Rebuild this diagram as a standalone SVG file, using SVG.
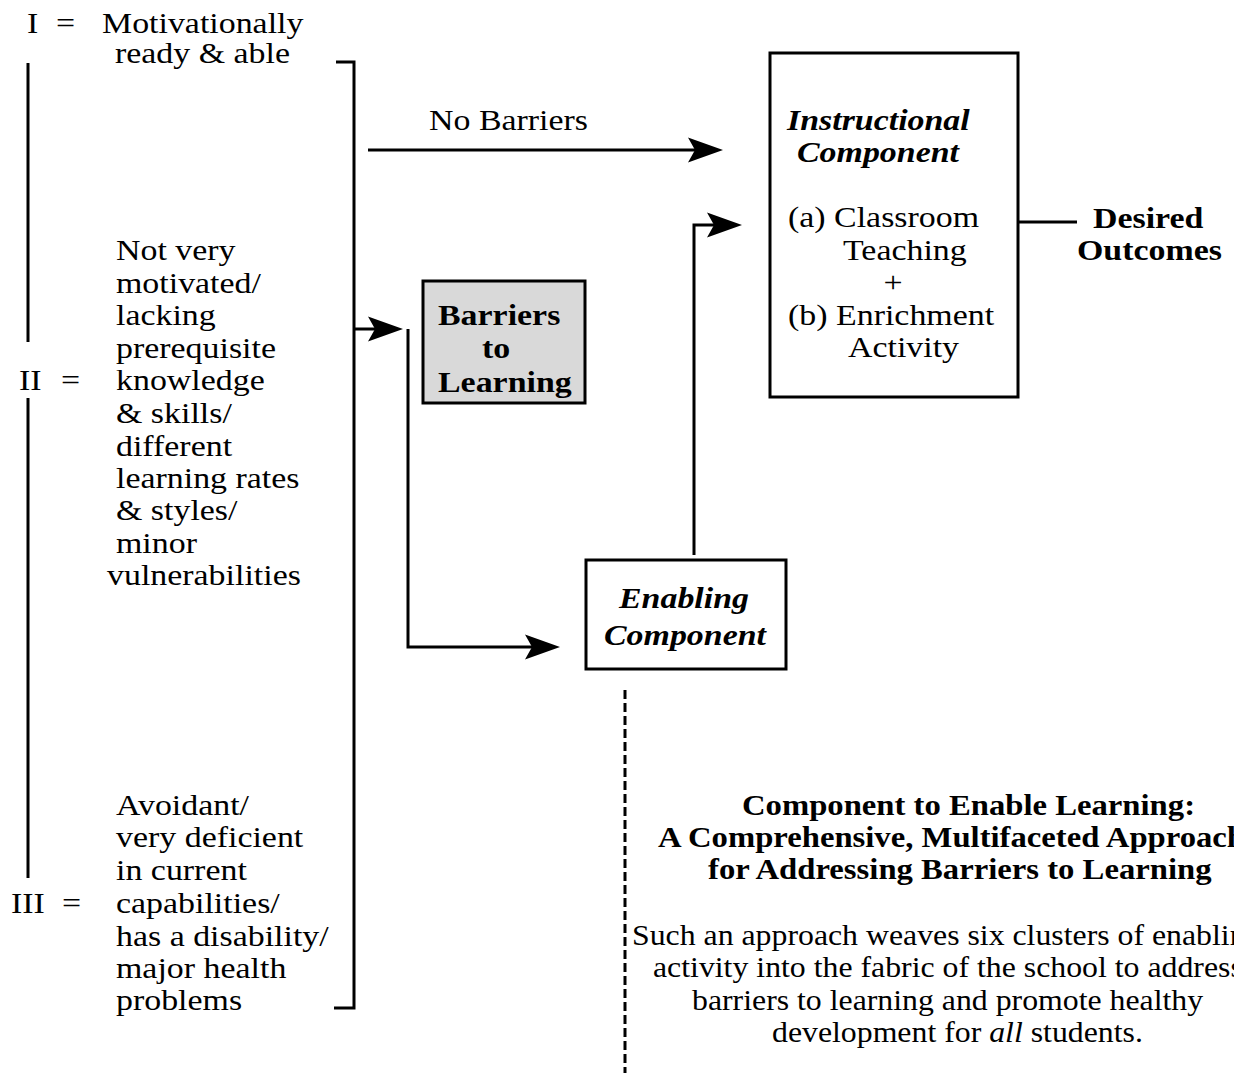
<svg xmlns="http://www.w3.org/2000/svg" width="1234" height="1073" viewBox="0 0 1234 1073">
<style>
text { font-family: "Liberation Serif", "Times New Roman", serif; font-size: 30px; fill: #000; }
.b { font-weight: bold; }
.bi { font-weight: bold; font-style: italic; }
.box { fill: #fff; stroke: #000; stroke-width: 3; }
.gray { fill: #d9d9d9; stroke: #000; stroke-width: 3; }
.ln { fill: none; stroke: #000; stroke-width: 3; }
.dash { fill: none; stroke: #000; stroke-width: 3; stroke-dasharray: 9 4; }
</style>
<defs>
<marker id="arr" markerUnits="userSpaceOnUse" viewBox="-36 -14 38 28" markerWidth="38" markerHeight="28" refX="-28" refY="0" orient="auto">
<path d="M0,0 L-35,-12.5 L-28,0 L-35,12.5 Z" fill="#000"/>
</marker>
</defs>
<rect width="1234" height="1073" fill="#fff"/>

<g id="connectors">
<path class="ln" d="M336,62 H354 V1008 H334"/>
<path class="ln" d="M28,63 V342"/>
<path class="ln" d="M28,398 V878"/>
<path class="ln" d="M354,329 H375" marker-end="url(#arr)"/>
<path class="ln" d="M408,329 V647 H532" marker-end="url(#arr)"/>
<path class="ln" d="M368,150 H695" marker-end="url(#arr)"/>
<path class="ln" d="M694,555 V225 H714" marker-end="url(#arr)"/>
<path class="ln" d="M1018,222 H1077"/>
<path class="dash" d="M625,690 V1073"/>
</g>

<g id="label-no-barriers">
<text transform="translate(429 130) scale(1.13 1)">No Barriers</text>
</g>

<g id="group-I">
<text transform="translate(27 33) scale(1.13 1)">I</text>
<text transform="translate(56 33) scale(1.13 1)">=</text>
<text transform="translate(102 33) scale(1.13 1)">Motivationally</text>
<text transform="translate(115 63) scale(1.13 1)">ready &amp; able</text>
</g>

<g id="group-II">
<text transform="translate(19 390) scale(1.13 1)">II</text>
<text transform="translate(61 390) scale(1.13 1)">=</text>
<text transform="translate(116 260) scale(1.13 1)">Not very</text>
<text transform="translate(116 293) scale(1.13 1)">motivated/</text>
<text transform="translate(116 325) scale(1.13 1)">lacking</text>
<text transform="translate(116 358) scale(1.13 1)">prerequisite</text>
<text transform="translate(116 390) scale(1.13 1)">knowledge</text>
<text transform="translate(116 423) scale(1.13 1)">&amp; skills/</text>
<text transform="translate(116 456) scale(1.13 1)">different</text>
<text transform="translate(116 488) scale(1.13 1)">learning rates</text>
<text transform="translate(116 520) scale(1.13 1)">&amp; styles/</text>
<text transform="translate(116 553) scale(1.13 1)">minor</text>
<text transform="translate(107 585) scale(1.13 1)">vulnerabilities</text>
</g>

<g id="group-III">
<text transform="translate(11 913) scale(1.13 1)">III</text>
<text transform="translate(62 913) scale(1.13 1)">=</text>
<text transform="translate(116 815) scale(1.13 1)">Avoidant/</text>
<text transform="translate(116 847) scale(1.13 1)">very deficient</text>
<text transform="translate(116 880) scale(1.13 1)">in current</text>
<text transform="translate(116 913) scale(1.13 1)">capabilities/</text>
<text transform="translate(116 946) scale(1.13 1)">has a disability/</text>
<text transform="translate(116 978) scale(1.13 1)">major health</text>
<text transform="translate(116 1010) scale(1.13 1)">problems</text>
</g>

<g id="barriers">
<rect class="gray" x="423" y="281" width="162" height="122"/>
<text class="b" transform="translate(438 325) scale(1.13 1)">Barriers</text>
<text class="b" transform="translate(482 358) scale(1.13 1)">to</text>
<text class="b" transform="translate(438 392) scale(1.13 1)">Learning</text>
</g>

<g id="enabling">
<rect class="box" x="586" y="560" width="200" height="109"/>
<text class="bi" transform="translate(619 608) scale(1.13 1)">Enabling</text>
<text class="bi" transform="translate(604 645) scale(1.13 1)">Component</text>
</g>

<g id="instructional">
<rect class="box" x="770" y="53" width="248" height="344"/>
<text class="bi" transform="translate(787 130) scale(1.13 1)">Instructional</text>
<text class="bi" transform="translate(797 162) scale(1.13 1)">Component</text>
<text transform="translate(788 227) scale(1.13 1)">(a) Classroom</text>
<text transform="translate(843 260) scale(1.13 1)">Teaching</text>
<text text-anchor="middle" transform="translate(893 292) scale(1.13 1)">+</text>
<text transform="translate(788 325) scale(1.13 1)">(b) Enrichment</text>
<text transform="translate(848 357) scale(1.13 1)">Activity</text>
</g>

<g id="outcomes">
<text class="b" transform="translate(1093 228) scale(1.13 1)">Desired</text>
<text class="b" transform="translate(1077 260) scale(1.13 1)">Outcomes</text>
</g>

<g id="enable-learning">
<text class="b" transform="translate(742 815) scale(1.09 1)">Component to Enable Learning:</text>
<text class="b" transform="translate(658 847) scale(1.09 1)">A Comprehensive, Multifaceted Approach</text>
<text class="b" transform="translate(708 879) scale(1.09 1)">for Addressing Barriers to Learning</text>
<text transform="translate(632 945) scale(1.06 1)">Such an approach weaves six clusters of enabling</text>
<text transform="translate(653 977) scale(1.06 1)">activity into the fabric of the school to address</text>
<text transform="translate(692 1010) scale(1.06 1)">barriers to learning and promote healthy</text>
<text transform="translate(772 1042) scale(1.06 1)">development for <tspan font-style="italic">all</tspan> students.</text>
</g>
</svg>
